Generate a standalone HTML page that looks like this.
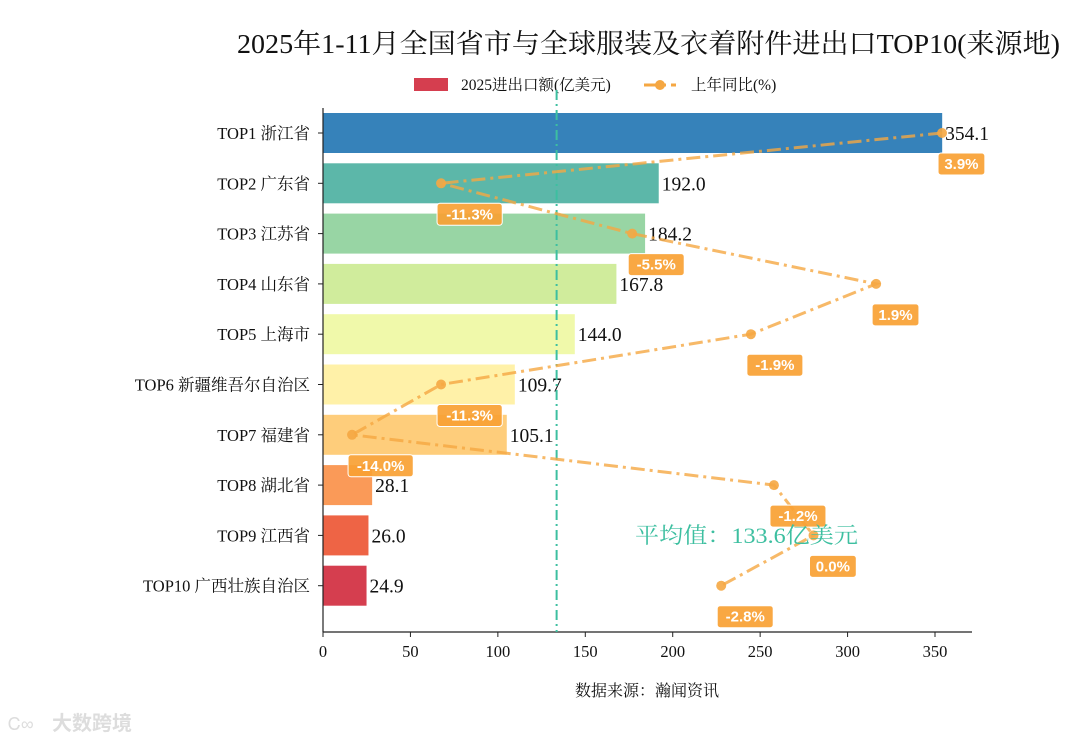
<!DOCTYPE html>
<html><head><meta charset="utf-8"><style>
body{margin:0;background:#fff}
svg{display:block;font-family:"Liberation Serif","Noto Serif CJK SC",serif}
</style></head><body>
<svg id="c" width="1080" height="743" viewBox="0 0 1080 743">
<text x="237" y="53" textLength="823" lengthAdjust="spacingAndGlyphs" font-size="27" fill="#111">2025年1-11月全国省市与全球服装及衣着附件进出口TOP10(来源地)</text>
<g>
<rect x="414" y="78" width="34" height="13" fill="#d53e4f"/>
<text x="461" y="90" font-size="15.5" fill="#111">2025进出口额(亿美元)</text>
<line x1="644" y1="85" x2="676" y2="85" stroke="#f5a742" stroke-width="3" stroke-dasharray="14,5,3,5"/>
<circle cx="660" cy="85" r="5" fill="#f5a742"/>
<text x="691" y="90" font-size="15.5" fill="#111">上年同比(%)</text>
</g>
<g id="plot"></g>
<text x="647" y="696" text-anchor="middle" font-size="16" fill="#111">数据来源：瀚闻资讯</text>
<text x="52" y="730" font-size="20" fill="#ddd" font-family="Liberation Sans,Noto Sans CJK SC,sans-serif" font-weight="bold">大数跨境</text>
<text x="8" y="730" font-size="18" fill="#ddd" font-family="Liberation Sans,sans-serif">Ꮯ∞</text>
</svg>
<script>
const categories=["TOP1 浙江省","TOP2 广东省","TOP3 江苏省","TOP4 山东省","TOP5 上海市","TOP6 新疆维吾尔自治区","TOP7 福建省","TOP8 湖北省","TOP9 江西省","TOP10 广西壮族自治区"];
const values=[354.1,192.0,184.2,167.8,144.0,109.7,105.1,28.1,26.0,24.9];
const yoy=[3.9,-11.3,-5.5,1.9,-1.9,-11.3,-14.0,-1.2,0.0,-2.8];
const xTicks=[0,50,100,150,200,250,300,350];
const average=133.6;
const colors=["#3682ba","#5cb7a9","#98d5a4","#d0ec9c","#f0f9aa","#fff1a8","#fecd7b","#fa9a58","#ee6445","#d53e4f"];
const NS="http://www.w3.org/2000/svg";
const g=document.getElementById('plot');
const x=v=>323+v*1.7486;
const xp=v=>813.5+v*32.96;
const y=i=>133+i*50.3;
function mk(t,a,p){const e=document.createElementNS(NS,t);for(const k in a)e.setAttribute(k,a[k]);(p||g).appendChild(e);return e;}
categories.forEach((c,i)=>{
 const r=mk('rect',{x:x(0),y:y(i)-20,width:x(values[i])-x(0),height:40,fill:colors[i]});
 
 
 const t=mk('text',{x:310,y:y(i)+6,'text-anchor':'end','font-size':16.5,fill:'#111'});t.textContent=c;
 
 
 const v=mk('text',{x:x(values[i])+3,y:y(i)+7,'font-size':19.5,fill:'#111'});v.textContent=values[i].toFixed(1);
 
 
});
const ax=mk('line',{x1:323,y1:108,x2:323,y2:632,stroke:'#222','stroke-width':1.2});


const bx=mk('line',{x1:323,y1:632,x2:972,y2:632,stroke:'#222','stroke-width':1.2});


categories.forEach((c,i)=>{mk('line',{x1:318,y1:y(i),x2:323,y2:y(i),stroke:'#222'});});
xTicks.forEach(v=>{
 mk('line',{x1:x(v),y1:632,x2:x(v),y2:637,stroke:'#222'});
 const t=mk('text',{x:x(v),y:657,'text-anchor':'middle','font-size':16.5,fill:'#111'});t.textContent=v;
 
 
});
const al=mk('line',{x1:x(average),y1:90,x2:x(average),y2:632,stroke:'#3dbfa0','stroke-width':2,'stroke-dasharray':'10,4,2,4'});


const pts=yoy.map((v,i)=>xp(v)+','+y(i)).join(' ');
const pl=mk('polyline',{points:pts,fill:'none',stroke:'#f5a742','stroke-opacity':0.8,'stroke-width':3,'stroke-dasharray':'14,5,3,5'});


yoy.forEach((v,i)=>{
 const p=mk('circle',{cx:xp(v),cy:y(i),r:5,fill:'#f5a742','fill-opacity':0.9});
 
 
 const s=v.toFixed(1)+'%';const w=s.length*9.2+10;
 const bxr=mk('rect',{x:xp(v)-4,y:y(i)+20,width:w,height:22,rx:3,fill:'#f8a133','fill-opacity':0.92,stroke:'#fff','stroke-width':1});
 
 
 const t=mk('text',{x:xp(v)-4+w/2,y:y(i)+36,'text-anchor':'middle','font-size':15,'font-weight':'bold',fill:'#fff','font-family':'Liberation Sans,sans-serif'});t.textContent=s;
 
 
});
const avt=mk('text',{x:635,y:543,'font-size':22,fill:'#3dbfa0',textLength:223,lengthAdjust:'spacingAndGlyphs'});avt.textContent='平均值：'+average+'亿美元';


</script>
</body></html>
